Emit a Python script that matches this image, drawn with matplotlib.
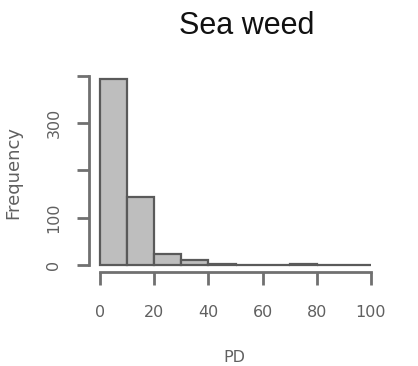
import matplotlib
matplotlib.use("Agg")
import matplotlib.pyplot as plt
import numpy as np

bin_edges = [0, 10, 20, 30, 40, 50, 60, 70, 80, 90, 100]
counts = [394, 144, 23, 10, 2, 0, 0, 2, 0, 0]
x_ticks = [0, 20, 40, 60, 80, 100]
x_tick_labels = ["0", "20", "40", "60", "80", "100"]
y_ticks = [0, 100, 200, 300, 400]
y_tick_labels = ["0", "100", "", "300", ""]
title = "Sea weed"
xlabel = "PD"
ylabel = "Frequency"

W, H = 418, 366
fig = plt.figure(figsize=(W / 100, H / 100), dpi=100)
ax = fig.add_axes([89.2 / W, (H - 272) / H, (381.8 - 89.2) / W, (272 - 66.5) / H])

lefts = np.array(bin_edges[:-1])
widths = np.diff(bin_edges)
ax.bar(lefts, counts, width=widths, align="edge", color="#bebebe",
       edgecolor="#5a5a5a", linewidth=1.6)

ax.set_xlim(-4, 104)
ax.set_ylim(-15, 420)
for s in ["top", "right"]:
    ax.spines[s].set_visible(False)
ax.spines["left"].set_bounds(0, 400)
ax.spines["bottom"].set_bounds(0, 100)
for s in ["left", "bottom"]:
    ax.spines[s].set_color("#707070")
    ax.spines[s].set_linewidth(2)

txtc = "#606060"
ax.set_xticks(x_ticks)
ax.set_xticklabels(x_tick_labels, fontsize=11.5, color=txtc)
ax.set_yticks(y_ticks)
ax.set_yticklabels(y_tick_labels, fontsize=11.5, color=txtc, rotation=90, va="center")
ax.tick_params(axis="x", length=9, width=2, color="#707070", pad=15)
ax.tick_params(axis="y", length=9, width=2, color="#707070", pad=11)

fig.text(247 / W, 1 - 26 / H, title, fontsize=22, family="Liberation Sans",
         ha="center", va="center", color="#111111")
fig.text(234 / W, 1 - 357 / H, xlabel, fontsize=11.5, ha="center", va="center", color=txtc)
fig.text(13 / W, 1 - 172 / H, ylabel, fontsize=13, ha="center", va="center",
         rotation=90, color=txtc)

fig.savefig("out.png", dpi=100)
